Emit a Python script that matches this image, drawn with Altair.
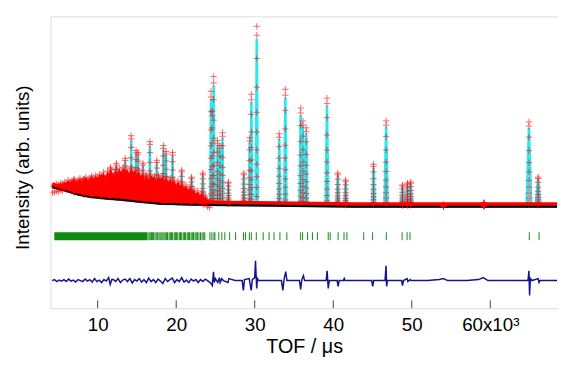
import altair as alt
import numpy as np
import pandas as pd

# ---------------- data ----------------
# TOF in units of 10^3 us, intensity in arbitrary units
bg_tof = [4.2, 5.0, 6.0, 7.6, 9.0, 11.4, 13.0, 15.4, 18.0, 22.7, 27.0, 32.7, 42.8, 55.0, 68.5]
bg_int = [123, 121, 119, 115, 113, 111, 110, 108, 106, 105, 104.5, 104, 103, 103, 103]

# well resolved Bragg peaks (position, observed top)
peak_tof = [6.99, 8.24, 9.25, 10.50, 11.63, 12.38, 13.51, 14.27, 14.89, 15.14, 15.77, 16.15,
            16.65, 17.53, 18.37, 18.70, 19.54, 20.70, 21.96, 23.39, 24.43, 24.60, 24.77, 25.27,
            25.56, 25.90, 26.65, 28.61, 29.36, 29.57, 30.26, 33.12, 33.90, 35.85, 36.14, 36.56,
            39.20, 40.58, 41.58, 45.13, 46.73, 48.81, 49.44, 49.86, 54.04, 59.18, 64.92, 66.09]
peak_obs = [130, 131, 132, 133, 143, 147, 152, 175, 160, 158, 147, 135,
            169, 150, 165, 159, 158, 140, 133, 137, 220, 200, 235, 170,
            165, 178, 128, 137, 173, 217, 286, 177, 222, 203, 190, 183,
            213, 137, 130, 146, 190, 125, 127, 128, 105, 107, 189, 133]

# dense forest of overlapping reflections at short TOF (top of the observed cloud)
forest_tof = [4.25, 4.5, 4.75, 5.0, 5.25, 5.5, 5.75, 6.0, 6.25, 6.5, 6.75, 7.0, 7.25, 7.5, 7.75,
              8.0, 8.25, 8.5, 8.75, 9.0, 9.25, 9.5, 9.75, 10.0, 10.25, 10.5, 10.75, 11.0, 11.25,
              11.5, 11.75, 12.0, 12.25, 12.5, 12.75, 13.0, 13.25, 13.5, 13.75, 14.0, 14.25, 14.5,
              14.75, 15.0, 15.25, 15.5, 15.75, 16.0, 16.25, 16.5, 16.75, 17.0, 17.25, 17.5, 17.75,
              18.0, 18.25, 18.5, 18.75, 19.0, 19.25, 19.5, 19.75, 20.0, 20.25, 20.5, 20.75, 21.0,
              21.25, 21.5, 21.75, 22.0, 22.25, 22.5, 22.75, 23.0, 23.25, 23.5, 23.75, 24.0, 24.25]
forest_top = [124, 125, 126, 125, 127, 126, 128, 127, 130, 128, 129, 131, 128, 130, 132,
              129, 131, 133, 130, 132, 134, 131, 135, 132, 136, 134, 138, 133, 139,
              136, 140, 135, 141, 137, 142, 138, 143, 139, 141, 137, 142, 138,
              140, 136, 139, 134, 137, 131, 135, 130, 136, 132, 134, 129, 135,
              131, 134, 129, 133, 128, 132, 127, 130, 125, 129, 124, 127, 122,
              125, 120, 123, 118, 121, 116, 119, 114, 117, 112, 114, 110, 109]

# reflection markers
refl_band = [4.48, 16.3]
refl_tof = [16.4, 16.55, 16.7, 16.85, 17.0, 17.1, 17.3, 17.45, 17.6, 17.8, 17.95, 18.1, 18.3,
            18.45, 18.6, 18.75, 18.9, 19.1, 19.25, 19.4, 19.55, 19.75, 19.9, 20.05, 20.2, 20.4,
            20.55, 20.7, 20.9, 21.05, 21.2, 21.4, 21.55, 21.7, 21.9, 22.05, 22.2, 22.4, 22.55,
            22.7, 22.9, 23.1, 23.3, 23.5, 23.65,
            24.30, 24.55, 24.81, 24.93, 25.43, 25.81, 26.19, 26.81, 27.57, 28.57, 28.82, 29.32,
            29.57, 30.20, 31.08, 31.83, 32.46, 33.21, 34.09, 35.85, 36.10, 36.73, 37.35, 37.98,
            39.36, 39.61, 40.62, 41.37, 41.74, 43.88, 45.01, 46.76, 48.77, 49.40, 49.77, 64.96, 66.21]

# difference curve (obs - calc)
diff_points = [(4.2, 0), (4.5, 1), (4.8, -1), (5.1, 0.5), (5.4, -0.5), (5.7, 1), (6.0, -1),
               (6.3, 1.5), (6.6, -0.5), (6.9, 0.5), (7.2, -1.5), (7.5, 1), (7.8, 0), (8.1, -1),
               (8.4, 1.5), (8.7, -0.5), (9.0, 1), (9.3, -1.5), (9.6, 2), (9.9, -1), (10.2, 0.5),
               (10.5, -2), (10.8, 1), (11.1, -0.5), (11.4, 3), (11.6, -4), (11.8, 1), (12.0, 1),
               (12.3, -1), (12.6, 2), (12.9, -2), (13.2, 0.5), (13.5, 1.5), (13.8, -1), (14.1, 2),
               (14.4, -2.5), (14.7, 1), (15.0, -0.5), (15.3, 2), (15.6, -1.5), (15.9, 1),
               (16.2, -2), (16.5, 2.5), (16.8, -1), (17.1, 1), (17.4, -2), (17.7, 1.5),
               (18.0, -0.5), (18.3, -3), (18.6, 2), (18.9, -1), (19.2, 1), (19.5, 2.5),
               (19.8, -2), (20.1, 1), (20.4, -1), (20.7, 3), (21.0, -1.5), (21.3, 0.5),
               (21.6, -2), (21.9, 1.5), (22.2, -0.5), (22.5, 1), (22.8, -2), (23.1, 1),
               (23.4, -1), (23.7, 1.5), (24.0, 0),
               (24.45, -3), (24.6, -5), (24.75, 9), (24.85, -2), (25.0, 2), (25.3, -2), (25.5, 3),
               (25.6, -2), (25.8, 2), (26.0, 0), (26.6, -2), (26.7, 2), (27.5, 0), (28.4, 0),
               (28.55, -10), (28.7, 1), (29.3, 2), (29.55, -10), (29.7, 1), (30.0, 3), (30.1, 20),
               (30.25, -8), (30.35, 2), (30.5, 0), (31.5, 0), (33.4, 0), (33.58, -10), (33.75, 2),
               (33.95, 9), (34.1, 0), (35.7, 0), (35.85, -9), (36.0, 1), (36.2, 5), (36.35, 0),
               (37.5, 0), (39.1, 0), (39.22, 10), (39.36, -8), (39.5, 0), (40.5, 0), (40.62, -6),
               (40.75, 0), (41.3, 0), (41.4, 2), (41.5, 0), (43.0, 0), (44.9, 0), (45.02, -6),
               (45.15, 0), (46.6, 0), (46.72, 15), (46.8, -6), (46.9, 0), (48.7, 0), (48.82, -5),
               (48.95, 0), (49.4, 2), (49.5, -1), (49.8, 1), (49.9, 0), (52.0, 0), (53.5, 1),
               (54.0, 2), (54.6, 0), (57.0, 0), (58.5, 1), (59.1, 3), (59.7, 0), (62.0, 0),
               (64.8, 0), (64.92, 10), (65.0, -15), (65.1, 2), (65.3, 0), (66.1, 2), (66.2, -2),
               (66.35, 0), (68.5, 0)]

x_ticks = [10, 20, 30, 40, 50, 60]

# ---------------- build tables ----------------
K = 1000.0
DIFF_OFFSET = 28
REFL_LO, REFL_HI = 69, 77
CALC_RATIO = 0.93
HALF_W = 0.0045
FRACS = [1.0, 0.95, 0.82, 0.66, 0.52, 0.41, 0.31, 0.23, 0.16, 0.10, 0.05]


def bg_at(t):
    return float(np.interp(t, bg_tof, bg_int))


calc_rows = []
for t, b in zip(bg_tof, bg_int):
    if all(abs(t - p) > HALF_W * p * 1.5 for p in peak_tof):
        calc_rows.append((t * K, b))
for p, h in zip(peak_tof, peak_obs):
    w = HALF_W * p
    calc_rows.append(((p - w) * K, bg_at(p - w)))
    calc_rows.append((p * K, bg_at(p) + CALC_RATIO * (h - bg_at(p))))
    calc_rows.append(((p + w) * K, bg_at(p + w)))
calc_df = pd.DataFrame(calc_rows, columns=["tof", "int"])

bg_df = pd.DataFrame({"tof": [t * K for t in bg_tof], "int": bg_int})
band_df = pd.DataFrame({"tof": [t * K for t in bg_tof], "int": [b + 2 for b in bg_int]})

forest_df = pd.DataFrame({"tof": [t * K for t in forest_tof], "int": forest_top,
                          "base": [bg_at(t) - 1 for t in forest_tof]})

obs_rows = []
for p, h in zip(peak_tof, peak_obs):
    b = bg_at(p)
    for f in FRACS:
        obs_rows.append((p * K, b + f * (h - b)))
for t, h in zip(forest_tof, forest_top):
    obs_rows.append((t * K, h))
    obs_rows.append((t * K, h - 7))
obs_df = pd.DataFrame(obs_rows, columns=["tof", "int"])

refl_band_df = pd.DataFrame({"tof": [refl_band[0] * K], "tof2": [refl_band[1] * K],
                             "int": [REFL_LO], "int2": [REFL_HI]})
refl_df = pd.DataFrame({"tof": [t * K for t in refl_tof], "int": REFL_LO, "int2": REFL_HI})

diff_df = pd.DataFrame({"tof": [d[0] * K for d in diff_points],
                        "int": [DIFF_OFFSET + d[1] for d in diff_points]})

tick_df = pd.DataFrame({"tof": [v * K for v in x_ticks], "int": 0, "int2": 8})

# ---------------- chart ----------------
FONT = "Liberation Sans"
xscale = alt.Scale(domain=[3980, 68620], nice=False, zero=False)
yscale = alt.Scale(domain=[0, 296], nice=False, zero=False)

xaxis = alt.Axis(values=[v * K for v in x_ticks], grid=False, domain=False, ticks=False,
                 labelExpr="datum.value == 60000 ? '60x10³' : format(datum.value / 1000, 'd')",
                 labelFontSize=19, labelFont=FONT, labelColor="black", labelPadding=8,
                 title="TOF / μs", titleFont=FONT, titleFontSize=20, titleFontWeight="normal",
                 titleColor="black", titlePadding=2)
yaxis = alt.Axis(grid=False, domain=False, ticks=False, labels=False,
                 title="Intensity (arb. units)", titleFont=FONT, titleFontSize=19,
                 titleFontWeight="normal", titleColor="black",
                 titleAngle=270, titleAlign="center", titleBaseline="bottom",
                 titleX=-18, titleY=153)

X = alt.X("tof:Q", scale=xscale, axis=xaxis)
Y = alt.Y("int:Q", scale=yscale, axis=yaxis)

calc = alt.Chart(calc_df).mark_line(color="#2ee8f0", strokeWidth=2.6, clip=True).encode(x=X, y=Y)

forest = alt.Chart(forest_df).mark_area(color="#ff0000", opacity=1, clip=True).encode(
    x=X, y=Y, y2="base:Q")

band = alt.Chart(band_df).mark_line(color="#ff0000", strokeWidth=5, clip=True).encode(x=X, y=Y)

background = alt.Chart(bg_df).mark_line(color="black", strokeWidth=2, clip=True).encode(x=X, y=Y)

cross = "M-1,0L1,0M0,-1L0,1"
obs = alt.Chart(obs_df).mark_point(shape=cross, size=42, filled=False, color="#ff0000",
                                   strokeWidth=1, opacity=0.6, clip=True).encode(x=X, y=Y)

rband = alt.Chart(refl_band_df).mark_rect(color="#118a11").encode(
    x=X, x2="tof2:Q", y=Y, y2="int2:Q")
rticks = alt.Chart(refl_df).mark_rule(color="#118a11", strokeWidth=1).encode(
    x=X, y=Y, y2="int2:Q")

diff = alt.Chart(diff_df).mark_line(color="#14148c", strokeWidth=1.5, clip=True).encode(x=X, y=Y)

xt = alt.Chart(tick_df).mark_rule(color="#444", strokeWidth=1).encode(x=X, y=Y, y2="int2:Q")

chart = alt.layer(calc, forest, band, background, obs, rband, rticks, diff, xt).properties(
    width=515, height=296,
    padding={"left": 43, "top": 6, "right": 0, "bottom": 47},
    autosize=alt.AutoSizeParams(type="none"),
).configure_view(stroke="#555", strokeWidth=1).configure(background="white")

chart.save("out.html", embed_options={"renderer": "svg", "actions": False})
